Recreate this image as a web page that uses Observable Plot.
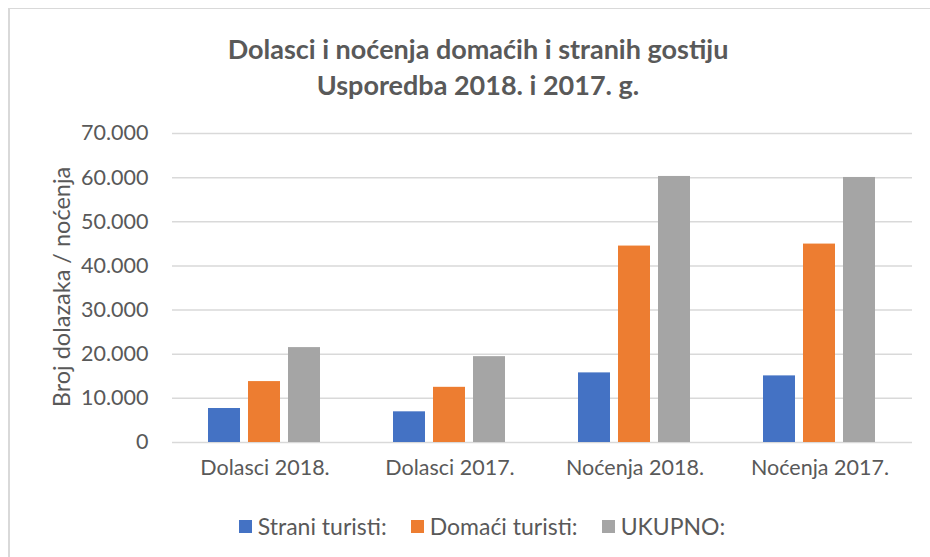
<!DOCTYPE html>
<html>
<head>
<meta charset="utf-8">
<script src="https://cdn.jsdelivr.net/npm/d3@7"></script>
<script src="https://cdn.jsdelivr.net/npm/@observablehq/plot@0.6"></script>
<style>
  body { margin: 0; background: #fff; }
  #chart { position: relative; width: 930px; height: 557px; overflow: hidden; background: #fff; font-family: Lato, "Open Sans", sans-serif; color: #595959; }
  #frame { position: absolute; left: 8px; top: 8px; width: 960px; height: 600px; border-top: 1.5px solid #d9d9d9; border-left: 2.5px solid #d9d9d9; box-sizing: border-box; }
  #title { position: absolute; left: 8px; width: 940px; top: 31px; text-align: center; font-weight: bold; font-size: 27px; line-height: 36px; color: #595959; }
  #plot { position: absolute; left: 0; top: 110px; }
  #ylabel { position: absolute; left: 61px; top: 287px; transform: translate(-50%, -50%) rotate(-90deg); white-space: nowrap; font-size: 23.5px; line-height: 24px; color: #595959; }
  #legend { position: absolute; left: 12px; width: 940px; top: 512px; display: flex; justify-content: center; align-items: center; font-size: 23px; color: #595959; }
  .item { display: flex; align-items: center; margin: 0 12px; }
  .sw { width: 13px; height: 13px; margin-right: 6px; }
</style>
</head>
<body>
<div id="chart">
  <div id="frame"></div>
  <div id="title">Dolasci i noćenja domaćih i stranih gostiju<br>Usporedba 2018. i 2017. g.</div>
  <div id="plot"></div>
  <div id="ylabel"></div>
  <div id="legend"></div>
</div>
<script>
const categories = ["Dolasci 2018.", "Dolasci 2017.", "Noćenja 2018.", "Noćenja 2017."];
const series = ["Strani turisti:", "Domaći turisti:", "UKUPNO:"];
const strani = [7700, 6950, 15770, 15090];
const domaci = [13800, 12500, 44500, 44950];
const ukupno = [21500, 19450, 60270, 60040];
const yTicks = [0, 10000, 20000, 30000, 40000, 50000, 60000, 70000];
const colors = ["#4472C4", "#ED7D31", "#A5A5A5"];
const yLabel = "Broj dolazaka / noćenja";

const valuesBySeries = [strani, domaci, ukupno];
const data = [];
categories.forEach((c, i) => {
  series.forEach((s, j) => data.push({cat: c, series: s, value: valuesBySeries[j][i]}));
});

const fmt = d => d3.format(",")(d).replace(/,/g, ".");

const chart = Plot.plot({
  width: 930,
  height: 382,
  marginTop: 23,
  marginBottom: 50,
  marginLeft: 172,
  marginRight: 18,
  style: {fontFamily: "Lato, 'Open Sans', sans-serif", fontSize: "21.5px", color: "#595959", background: "transparent"},
  fx: {domain: categories, padding: 0, label: null, axis: "bottom", tickSize: 0, tickPadding: 17},
  x: {domain: series, paddingInner: 0.195, paddingOuter: 0.854, axis: null},
  y: {domain: [0, 70000], ticks: yTicks, tickFormat: fmt, tickSize: 0, tickPadding: 24, label: null},
  color: {domain: series, range: colors},
  marks: [
    Plot.gridY(yTicks, {stroke: "#d9d9d9", strokeOpacity: 1, strokeWidth: 1.5}),
    Plot.barY(data, {fx: "cat", x: "series", y: "value", fill: "series"})
  ]
});
document.getElementById("plot").appendChild(chart);
document.getElementById("ylabel").textContent = yLabel;

const legend = document.getElementById("legend");
series.forEach((s, j) => {
  const item = document.createElement("div");
  item.className = "item";
  const sw = document.createElement("div");
  sw.className = "sw";
  sw.style.background = colors[j];
  const t = document.createElement("span");
  t.textContent = s;
  item.appendChild(sw);
  item.appendChild(t);
  legend.appendChild(item);
});
</script>
</body>
</html>
